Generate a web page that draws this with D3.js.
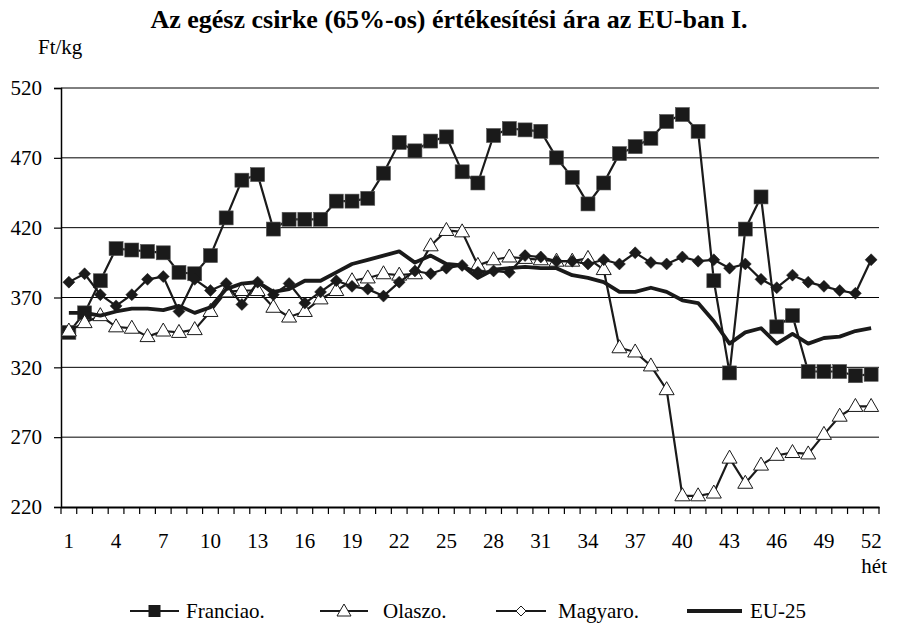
<!DOCTYPE html>
<html>
<head>
<meta charset="utf-8">
<script src="https://cdn.jsdelivr.net/npm/d3@7"></script>
<style>
  html, body { margin: 0; padding: 0; background: #fff; }
  svg text { font-family: "Liberation Serif", "Times New Roman", serif; fill: #000; }
</style>
</head>
<body>
<svg id="chart" width="898" height="624"></svg>
<script>
const title = "Az egész csirke (65%-os) értékesítési ára az EU-ban I.";
const yUnit = "Ft/kg";
const xUnit = "hét";
const weeks = d3.range(1, 53);
const xTickLabels = [1, 4, 7, 10, 13, 16, 19, 22, 25, 28, 31, 34, 37, 40, 43, 46, 49, 52];
const yTicks = [220, 270, 320, 370, 420, 470, 520];
const seriesNames = ["Franciao.", "Olaszo.", "Magyaro.", "EU-25"];

const franciao = [345,359,382,405,404,403,402,388,387,400,
                  427,454,458,419,426,426,426,439,439,441,
                  459,481,475,482,485,460,452,486,491,490,
                  489,470,456,437,452,473,478,484,496,501,
                  489,382,316,419,442,349,357,317,317,317,314,315];
const olaszo = [346,352,357,349,348,342,346,345,347,360,
                374,375,375,363,356,360,369,375,382,384,
                387,386,387,407,418,417,393,397,399,398,
                397,396,396,398,390,334,331,321,304,228,
                228,230,255,237,250,257,259,258,272,285,292,292];
const magyaro = [381,387,372,364,372,383,385,360,383,375,
                 380,365,381,372,380,366,374,382,378,376,
                 371,381,389,387,391,393,388,389,388,400,
                 399,396,396,394,397,394,402,395,394,399,
                 396,397,391,394,383,377,386,381,378,375,373,397];
const eu25 = [359,359,357,360,362,362,361,364,359,363,
              376,380,381,374,376,382,382,388,394,397,
              400,403,395,400,394,393,384,390,391,392,
              391,391,386,384,381,374,374,377,374,368,
              366,353,337,345,348,337,344,337,341,342,346,348];

const svg = d3.select("#chart");
const pLeft = 61, pRight = 879, pTop = 88, pBottom = 507;
const fs = 21;

const x = d3.scaleBand().domain(weeks).range([pLeft, pRight]).padding(0);
const xc = d => x(d) + x.bandwidth() / 2;
const y = d3.scaleLinear().domain([220, 520]).range([pBottom, pTop]);

// title
svg.append("text").attr("x", 449).attr("y", 28).attr("text-anchor", "middle")
  .attr("font-size", 26).attr("font-weight", "bold").text(title);
svg.append("text").attr("x", 38).attr("y", 54).attr("font-size", fs).text(yUnit);

// gridlines
svg.append("g").selectAll("line").data(yTicks.filter(v => v > 220)).join("line")
  .attr("x1", pLeft).attr("x2", pRight)
  .attr("y1", d => y(d)).attr("y2", d => y(d))
  .attr("stroke", "#000").attr("stroke-width", 1);

// y axis
const yAxis = svg.append("g").attr("transform", `translate(${pLeft},0)`)
  .call(d3.axisLeft(y).tickValues(yTicks).tickSize(7).tickPadding(12).tickFormat(d3.format("d")));
yAxis.select(".domain").attr("stroke", "#000").attr("stroke-width", 1.5);
yAxis.selectAll(".tick line").attr("stroke", "#000").attr("stroke-width", 1.2);
yAxis.selectAll("text").attr("font-size", fs).attr("font-family", "Liberation Serif");

// x axis
const xAxis = svg.append("g").attr("transform", `translate(0,${pBottom})`)
  .call(d3.axisBottom(x).tickValues(xTickLabels).tickSize(0).tickPadding(26));
xAxis.select(".domain").attr("stroke", "#000").attr("stroke-width", 1.8);
xAxis.selectAll("text").attr("font-size", fs).attr("font-family", "Liberation Serif");
// tick marks between categories
const boundaries = weeks.map(w => x(w)).concat([pRight]);
svg.append("g").selectAll("line").data(boundaries).join("line")
  .attr("x1", d => d).attr("x2", d => d)
  .attr("y1", pBottom).attr("y2", pBottom + 7)
  .attr("stroke", "#000").attr("stroke-width", 1.2);

svg.append("text").attr("x", 887).attr("y", 573).attr("text-anchor", "end")
  .attr("font-size", fs).text(xUnit);

const line = d3.line().x((d, i) => xc(weeks[i])).y(d => y(d));

function drawSeries(data, kind) {
  const g = svg.append("g");
  g.append("path").datum(data).attr("d", line).attr("fill", "none")
    .attr("stroke", "#1a1a1a").attr("stroke-width", kind === "eu" ? 3.8 : 2.2)
    .attr("stroke-linejoin", "round");
  if (kind === "square") {
    g.selectAll("rect").data(data).join("rect")
      .attr("x", (d, i) => xc(weeks[i]) - 7).attr("y", d => y(d) - 7)
      .attr("width", 14).attr("height", 14)
      .attr("fill", "#1a1a1a").attr("stroke", "#555").attr("stroke-width", 0.6);
  } else if (kind === "triangle") {
    g.selectAll("path.m").data(data).join("path").attr("class", "m")
      .attr("d", (d, i) => {
        const cx = xc(weeks[i]), cy = y(d);
        return `M${cx},${cy - 8}L${cx + 7.5},${cy + 5}L${cx - 7.5},${cy + 5}Z`;
      })
      .attr("fill", "#fff").attr("stroke", "#1a1a1a").attr("stroke-width", 1);
  } else if (kind === "diamond") {
    g.selectAll("path.m").data(data).join("path").attr("class", "m")
      .attr("d", (d, i) => {
        const cx = xc(weeks[i]), cy = y(d);
        return `M${cx},${cy - 6}L${cx + 6},${cy}L${cx},${cy + 6}L${cx - 6},${cy}Z`;
      })
      .attr("fill", "#1a1a1a").attr("stroke", "#1a1a1a").attr("stroke-width", 0.5);
  }
}
drawSeries(franciao, "square");
drawSeries(olaszo, "triangle");
drawSeries(magyaro, "diamond");
drawSeries(eu25, "eu");

// legend
const legendY = 611;
const legendItems = [
  { name: seriesNames[0], kind: "square", x1: 130, x2: 179, tx: 186 },
  { name: seriesNames[1], kind: "triangle", x1: 320, x2: 368, tx: 383 },
  { name: seriesNames[2], kind: "diamond", x1: 496, x2: 546, tx: 558 },
  { name: seriesNames[3], kind: "eu", x1: 687, x2: 742, tx: 750 }
];
const lg = svg.append("g");
legendItems.forEach(it => {
  lg.append("line").attr("x1", it.x1).attr("x2", it.x2).attr("y1", legendY).attr("y2", legendY)
    .attr("stroke", "#1a1a1a").attr("stroke-width", it.kind === "eu" ? 3.8 : 2.2);
  const cx = (it.x1 + it.x2) / 2;
  if (it.kind === "square") {
    lg.append("rect").attr("x", cx - 6).attr("y", legendY - 6).attr("width", 12).attr("height", 12).attr("fill", "#1a1a1a");
  } else if (it.kind === "triangle") {
    lg.append("path").attr("d", `M${cx},${legendY - 7}L${cx + 7},${legendY + 5}L${cx - 7},${legendY + 5}Z`)
      .attr("fill", "#fff").attr("stroke", "#1a1a1a").attr("stroke-width", 1);
  } else if (it.kind === "diamond") {
    lg.append("path").attr("d", `M${cx},${legendY - 5}L${cx + 5},${legendY}L${cx},${legendY + 5}L${cx - 5},${legendY}Z`)
      .attr("fill", "#fff").attr("stroke", "#1a1a1a").attr("stroke-width", 1);
  }
  lg.append("text").attr("x", it.tx).attr("y", legendY + 7).attr("font-size", fs).text(it.name);
});
</script>
</body>
</html>
